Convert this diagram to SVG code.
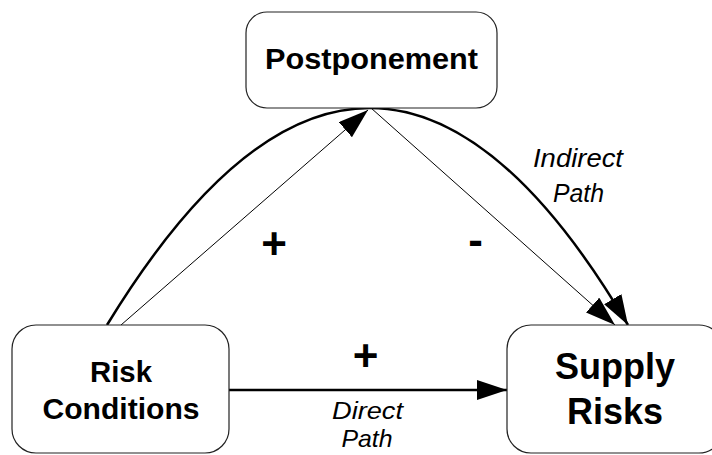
<svg xmlns="http://www.w3.org/2000/svg" width="712" height="455" viewBox="0 0 712 455">
<style>
.box{fill:#fff;stroke:#222;stroke-width:1.2}
.nt{font-family:"Liberation Sans",Arial,sans-serif;font-weight:bold;fill:#000;text-anchor:middle}
.lb{font-family:"Liberation Sans",Arial,sans-serif;font-style:italic;fill:#000;text-anchor:middle}
.sg{font-family:"Liberation Sans",Arial,sans-serif;font-weight:bold;fill:#000;text-anchor:middle;font-size:44px}
.thick{fill:none;stroke:#000;stroke-width:2.5}
.thin{fill:none;stroke:#000;stroke-width:1}
</style>
<defs>
<marker id="ah" markerUnits="userSpaceOnUse" markerWidth="30" markerHeight="20" refX="30" refY="10" orient="auto" viewBox="0 0 30 20">
<path d="M0,0 L30,10 L0,20 z" fill="#000"/>
</marker>
</defs>
<rect width="712" height="455" fill="#fff"/>
<g id="connectors">
<path class="thick" d="M107,325 Q372,-109 628,325" marker-end="url(#ah)"/>
<path class="thin" d="M121,325 L368,110" marker-end="url(#ah)"/>
<path class="thin" d="M371,108 L615,325" marker-end="url(#ah)"/>
<path class="thick" d="M229,390 L507,390" marker-end="url(#ah)"/>
</g>
<g id="postponement">
<rect class="box" x="246" y="12" width="251" height="96" rx="21"/>
<text class="nt" x="371.5" y="69" font-size="30" textLength="213" lengthAdjust="spacingAndGlyphs">Postponement</text>
</g>
<g id="risk-conditions">
<rect class="box" x="12" y="325" width="217" height="128" rx="24"/>
<text class="nt" x="121" y="382" font-size="29" textLength="62" lengthAdjust="spacingAndGlyphs">Risk</text>
<text class="nt" x="121" y="419" font-size="29" textLength="157" lengthAdjust="spacingAndGlyphs">Conditions</text>
</g>
<g id="supply-risks">
<rect class="box" x="507" y="325" width="216" height="128" rx="24"/>
<text class="nt" x="615" y="379" font-size="36" textLength="120" lengthAdjust="spacingAndGlyphs">Supply</text>
<text class="nt" x="615" y="424" font-size="36" textLength="96" lengthAdjust="spacingAndGlyphs">Risks</text>
</g>
<g id="labels">
<text class="sg" x="274" y="259">+</text>
<text class="sg" x="475.5" y="255">-</text>
<text class="sg" x="365.5" y="371">+</text>
<text class="lb" x="578" y="167" font-size="26" textLength="90" lengthAdjust="spacingAndGlyphs">Indirect</text>
<text class="lb" x="578.5" y="202" font-size="26" textLength="51" lengthAdjust="spacingAndGlyphs">Path</text>
<text class="lb" x="367.5" y="419" font-size="24" textLength="71" lengthAdjust="spacingAndGlyphs">Direct</text>
<text class="lb" x="367" y="447" font-size="24" textLength="51" lengthAdjust="spacingAndGlyphs">Path</text>
</g>
</svg>
